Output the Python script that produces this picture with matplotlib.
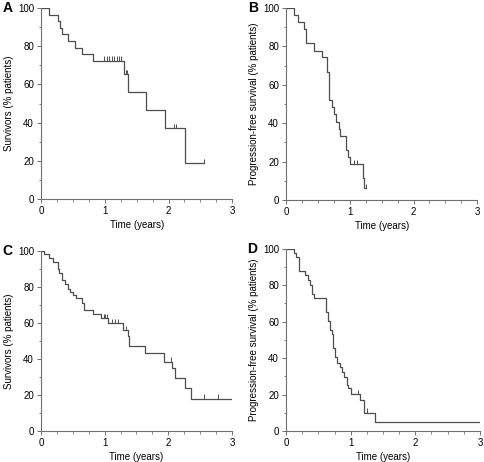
import numpy as np
import matplotlib.pyplot as plt
from matplotlib.ticker import MultipleLocator

plt.rcParams['font.family'] = ['Liberation Sans', 'DejaVu Sans']

# panel A - overall survival
a_time = [0, 0.13, 0.26, 0.30, 0.33, 0.43, 0.53, 0.65, 0.81, 1.30, 1.37, 1.64, 1.95, 2.26]
a_surv = [100, 96.5, 93.1, 89.7, 86.2, 82.8, 79.3, 75.9, 72.4, 65.2, 56.0, 46.6, 37.2, 18.6]
a_end = 2.56
a_cens_t = [0.99, 1.03, 1.07, 1.11, 1.15, 1.19, 1.23, 1.25, 1.33, 1.35, 2.08, 2.11, 2.56]
a_cens_s = [72.4] * 8 + [65.2, 65.2, 37.2, 37.2, 18.6]

# panel B - progression-free survival
b_time = [0, 0.125, 0.19, 0.29, 0.32, 0.44, 0.57, 0.64, 0.68, 0.72, 0.76, 0.79, 0.83, 0.85,
          0.94, 0.98, 1.00, 1.20, 1.22]
b_surv = [100, 96.2, 92.5, 88.9, 81.6, 77.8, 74.3, 66.8, 52.1, 48.3, 44.6, 40.8, 37.0, 33.3,
          26.0, 22.2, 18.6, 11.3, 6.1]
b_end = 1.25
b_cens_t = [1.06, 1.11, 1.25]
b_cens_s = [18.6, 18.6, 6.1]

# panel C - overall survival
c_time = [0, 0.04, 0.13, 0.19, 0.26, 0.29, 0.33, 0.38, 0.42, 0.46, 0.50, 0.55, 0.65, 0.68,
          0.82, 0.95, 1.06, 1.29, 1.36, 1.38, 1.64, 1.93, 2.05, 2.10, 2.26, 2.36]
c_surv = [100, 98.0, 95.9, 93.9, 89.7, 87.5, 84.0, 81.5, 79.0, 77.0, 75.5, 73.6, 70.8, 67.2,
          64.8, 62.5, 59.8, 56.1, 52.8, 47.4, 43.2, 38.6, 34.9, 29.3, 23.8, 18.1]
c_end = 3.0
c_cens_t = [0.99, 1.01, 1.03, 1.11, 1.16, 1.21, 1.34, 2.04, 2.56, 2.78, 3.0]
c_cens_s = [62.5, 62.5, 62.5, 59.8, 59.8, 59.8, 56.1, 38.6, 18.1, 18.1, 18.1]

# panel D - progression-free survival
d_time = [0, 0.13, 0.16, 0.20, 0.29, 0.34, 0.37, 0.40, 0.43, 0.62, 0.65, 0.68, 0.71, 0.73,
          0.76, 0.79, 0.84, 0.86, 0.90, 0.94, 0.96, 1.00, 1.14, 1.20, 1.37]
d_surv = [100, 97.8, 95.2, 87.9, 85.6, 82.8, 80.1, 75.0, 72.8, 65.4, 60.5, 55.4, 53.2, 45.3,
          40.4, 37.5, 35.3, 32.5, 29.8, 25.2, 23.4, 20.1, 17.0, 10.1, 5.1]
d_end = 3.0
d_cens_t = [1.12, 1.25, 3.0]
d_cens_s = [20.1, 10.1, 5.1]

panels = [
    ('A', a_time, a_surv, a_end, a_cens_t, a_cens_s, 'Survivors (% patients)',
     [41, 232.3, 8, 199]),
    ('B', b_time, b_surv, b_end, b_cens_t, b_cens_s, 'Progression-free survival (% patients)',
     [286, 477.3, 8, 200]),
    ('C', c_time, c_surv, c_end, c_cens_t, c_cens_s, 'Survivors (% patients)',
     [41, 232, 250.7, 431.3]),
    ('D', d_time, d_surv, d_end, d_cens_t, d_cens_s, 'Progression-free survival (% patients)',
     [286, 480, 248.7, 431]),
]

W, H = 485, 462
fig = plt.figure(figsize=(W / 100, H / 100), dpi=100)
line_col = '#4d4d4d'
axis_col = '#6e6e6e'

for letter, t, s, t_end, ct, cs, ylab, (x0, x1, y0, y1) in panels:
    ax = fig.add_axes([x0 / W, 1 - y1 / H, (x1 - x0) / W, (y1 - y0) / H])
    ax.step(t + [t_end], s + [s[-1]], where='post', color=line_col, lw=0.9)
    ax.vlines(ct, cs, np.array(cs) + 2.3, color=line_col, lw=0.7)

    ax.set_xlim(0, 3)
    ax.set_ylim(0, 100)
    ax.xaxis.set_major_locator(MultipleLocator(1))
    ax.xaxis.set_minor_locator(MultipleLocator(0.25))
    ax.yaxis.set_major_locator(MultipleLocator(20))
    ax.yaxis.set_minor_locator(MultipleLocator(10))
    for side in ['top', 'right']:
        ax.spines[side].set_visible(False)
    for side in ['left', 'bottom']:
        ax.spines[side].set_color(axis_col)
        ax.spines[side].set_linewidth(0.8)
    ax.tick_params(which='major', length=3, width=0.7, color=axis_col, labelsize=7, pad=2)
    ax.tick_params(which='minor', length=1.8, width=0.6, color=axis_col)
    ax.set_xlabel('Time (years)', fontsize=7, labelpad=3)
    ax.set_ylabel(ylab, fontsize=7, labelpad=3)
    ax.text(-0.2, 1.0, letter, transform=ax.transAxes, fontsize=10, fontweight='bold',
            ha='left', va='center')

fig.savefig('out.png', dpi=100)
